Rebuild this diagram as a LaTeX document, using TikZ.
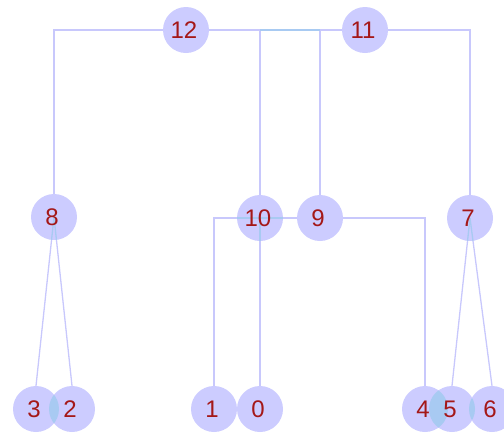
\documentclass[tikz,border=0pt]{standalone}
\usepackage{fontspec}
\setmainfont{Liberation Sans}
\usetikzlibrary{calc}

\definecolor{discfill}{HTML}{CCCCFF}
\definecolor{edgeline}{HTML}{C8C8FC}
\definecolor{tintblue}{HTML}{A8CAF2}
\definecolor{labelred}{HTML}{A41818}

\pgfdeclarelayer{edges}
\pgfdeclarelayer{discs}
\pgfdeclarelayer{tint}
\pgfsetlayers{edges,discs,tint,main}

\tikzset{
  vertex/.style={circle,minimum size=46pt,inner sep=0pt,text=labelred,
    font=\fontsize{24}{24}\selectfont,
    execute at begin node={\hspace*{-4pt}}},
  edge/.style={draw=edgeline,line width=1.3pt},
  tinted/.style={draw=tintblue,line width=1.3pt},
}

\begin{document}
\begin{tikzpicture}[x=1pt,y=-1pt]
  \useasboundingbox (0,0) rectangle (504,432);

  % vertices, top row to leaves
  \node[vertex] (n12) at (186,30) {12};
  \node[vertex] (n11) at (365,30) {11};
  \node[vertex] (n8) at (54,217) {8};
  \node[vertex] (n10) at (260,218) {10};
  \node[vertex] (n9) at (320,218) {9};
  \node[vertex] (n7) at (470,218) {7};
  \node[vertex] (n3) at (36,409) {3};
  \node[vertex] (n2) at (72,409) {2};
  \node[vertex] (n1) at (214,409) {1};
  \node[vertex] (n0) at (260,409) {0};
  \node[vertex] (n4) at (425,409) {4};
  \node[vertex] (n5) at (452,409) {5};
  \node[vertex] (n6) at (492,409) {6};

  \begin{pgfonlayer}{discs}
    \foreach \v in {0,...,12}
      \fill[discfill] (n\v.center) circle[radius=23pt];
  \end{pgfonlayer}

  \begin{pgfonlayer}{edges}
    \draw[edge] (n12.center) -| (n8.center);
    \draw[edge] (n12.center) -| (n9.center);
    \draw[edge] (n11.center) -| (n10.center);
    \draw[edge] (n11.center) -| (n7.center);
    \draw[edge] (n10.center) -| (n1.center);
    \draw[edge] (n9.center) -| (n0.center);
    \draw[edge] (n9.center) -| (n4.center);
    \foreach \a/\b in {8/3,8/2,7/5,7/6}
      \draw[edge] (n\a.center) -- (n\b.north);
  \end{pgfonlayer}

  \begin{pgfonlayer}{tint}
    % where two discs overlap
    \foreach \a/\b in {3/2,4/5,5/6}{
      \begin{scope}
        \clip (n\a.center) circle[radius=23pt];
        \fill[tintblue] (n\b.center) circle[radius=23pt];
      \end{scope}
    }
    % lines showing through the discs
    \begin{scope}
      \clip (n10.center) circle[radius=23pt];
      \draw[tinted] (n10.center) -| (n1.center);
      \draw[tinted] (n9.center) -| (n0.center);
    \end{scope}
    \foreach \a/\b/\c in {8/3/2,7/5/6}{
      \begin{scope}
        \clip (n\a.center) circle[radius=23pt];
        \draw[tinted] (n\a.center) -- (n\b.north);
        \draw[tinted] (n\a.center) -- (n\c.north);
      \end{scope}
    }
    \draw[tinted] (n10.center |- n12.center) -- (n9.center |- n12.center);
  \end{pgfonlayer}
\end{tikzpicture}
\end{document}
